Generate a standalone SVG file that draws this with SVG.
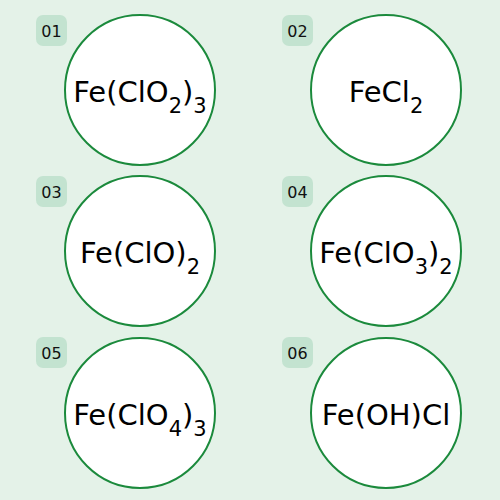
<svg xmlns="http://www.w3.org/2000/svg" width="500" height="500" viewBox="0 0 500 500">
<style>
.bg{fill:#e4f2e8}
.c{fill:#ffffff;stroke:#1b8a3c;stroke-width:2}
.b{fill:#c3e3d0}
.bt{font-family:"DejaVu Sans",sans-serif;font-size:16px;fill:#111111;text-anchor:middle}
.t{font-family:"DejaVu Sans",sans-serif;font-size:29px;fill:#000000;text-anchor:middle}
.s{font-size:21px}
</style>
<rect class="bg" x="0" y="0" width="500" height="500"/>
<g id="connectors"></g>
<g id="n1">
<circle class="c" cx="140" cy="90" r="75"/>
<rect class="b" x="36" y="15" width="31" height="31" rx="7"/>
<text class="bt" x="51.5" y="36.5">01</text>
<text class="t" x="140" y="101.5">Fe(ClO<tspan class="s" dy="11">2</tspan><tspan dy="-11">)</tspan><tspan class="s" dy="11">3</tspan></text>
</g>
<g id="n2">
<circle class="c" cx="386" cy="90" r="75"/>
<rect class="b" x="282" y="15" width="31" height="31" rx="7"/>
<text class="bt" x="297.5" y="36.5">02</text>
<text class="t" x="386" y="101.5">FeCl<tspan class="s" dy="11">2</tspan></text>
</g>
<g id="n3">
<circle class="c" cx="140" cy="251" r="75"/>
<rect class="b" x="36" y="176" width="31" height="31" rx="7"/>
<text class="bt" x="51.5" y="197.5">03</text>
<text class="t" x="140" y="262.5">Fe(ClO)<tspan class="s" dy="11">2</tspan></text>
</g>
<g id="n4">
<circle class="c" cx="386" cy="251" r="75"/>
<rect class="b" x="282" y="176" width="31" height="31" rx="7"/>
<text class="bt" x="297.5" y="197.5">04</text>
<text class="t" x="386" y="262.5">Fe(ClO<tspan class="s" dy="11">3</tspan><tspan dy="-11">)</tspan><tspan class="s" dy="11">2</tspan></text>
</g>
<g id="n5">
<circle class="c" cx="140" cy="413" r="75"/>
<rect class="b" x="36" y="337" width="31" height="31" rx="7"/>
<text class="bt" x="51.5" y="358.5">05</text>
<text class="t" x="140" y="424.5">Fe(ClO<tspan class="s" dy="11">4</tspan><tspan dy="-11">)</tspan><tspan class="s" dy="11">3</tspan></text>
</g>
<g id="n6">
<circle class="c" cx="386" cy="413" r="75"/>
<rect class="b" x="282" y="337" width="31" height="31" rx="7"/>
<text class="bt" x="297.5" y="358.5">06</text>
<text class="t" x="386" y="424.5">Fe(OH)Cl</text>
</g>
</svg>
